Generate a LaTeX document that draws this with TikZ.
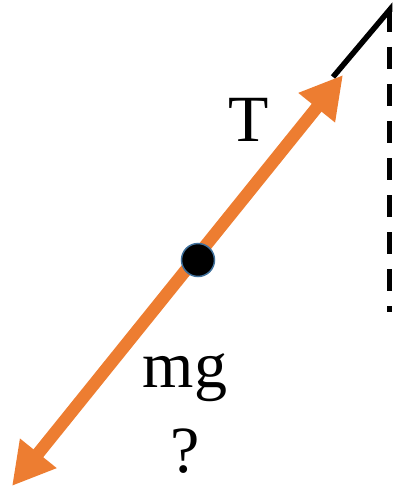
\documentclass[tikz,border=0pt]{standalone}
\usepackage{fontspec}
\setmainfont{Liberation Serif}
\usetikzlibrary{arrows.meta}
\definecolor{forceorange}{HTML}{ED7D31}
\definecolor{dotblue}{HTML}{41719C}
\tikzset{
  force/.style={draw=forceorange, line width=12.5pt,
    {Triangle[length=42pt,width=44pt]}-{Triangle[length=42pt,width=44pt]}},
  rope/.style={draw=black, line width=5.5pt},
  plumb/.style={draw=black, line width=5pt, dash pattern=on 22pt off 15pt},
  label/.style={font=\fontsize{66}{66}\selectfont, anchor=base, inner sep=0pt},
  mass/.style={circle, fill=black, draw=dotblue, line width=1.5pt, minimum size=33pt, inner sep=0pt}
}
\begin{document}
\begin{tikzpicture}[x=1pt,y=-1pt]
\useasboundingbox (0,0) rectangle (396,487);
\coordinate (low) at (12,486);
\coordinate (high) at (343,75);
\coordinate (ropeend) at (333,77);
\coordinate (pivot) at (389.5,10);
\coordinate (plumbend) at (389.5,312);
\draw[plumb] (pivot) -- (plumbend);
\draw[rope, line join=miter] (ropeend) -- (pivot) -- (389.5,12);
\draw[force] (low) -- (high);
\node[mass] (dot) at (198,260) {};
\node[label] (T) at (249,141) {T};
\node[label] (mg) at (185,387) {mg};
\node[label] (q) at (185,472) {?};
\end{tikzpicture}
\end{document}
